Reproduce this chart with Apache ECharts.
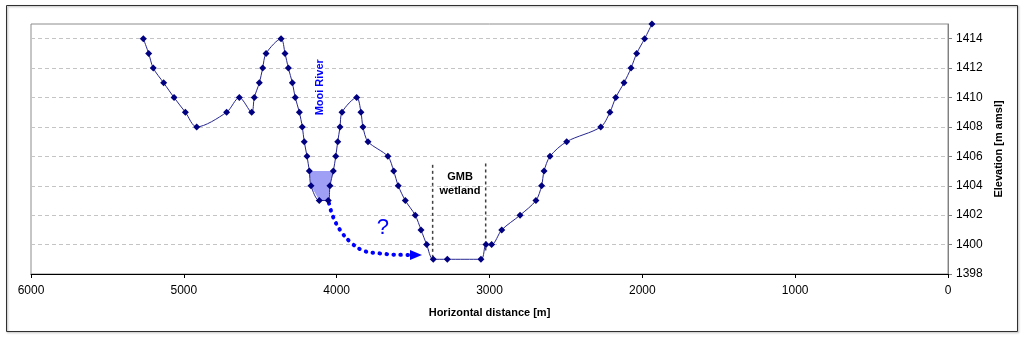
<!DOCTYPE html>
<html>
<head>
<meta charset="utf-8">
<script src="https://cdn.jsdelivr.net/npm/echarts@6/dist/echarts.min.js"></script>
<style>
html,body{margin:0;padding:0;background:#fff;}
#c{width:1024px;height:338px;}
</style>
</head>
<body>
<div id="c"></div>
<script>
// Cross-section profile: [horizontal distance (m), elevation (m amsl)]
const profile = [
  [5265,1414],[5230,1413],[5200,1412],[5132,1411],[5064,1410],[4990,1409],[4916,1408],
  [4720,1409],[4637,1410],[4556,1409],[4539,1410],[4506,1411],[4484,1412],[4462,1413],
  [4364,1414],[4338,1413],[4316,1412],[4290,1411],[4271,1410],[4244,1409],[4225,1408],
  [4212,1407],[4194,1406],[4179,1405],[4168,1404],[4114,1403],[4055,1403],[4044,1404],
  [4022,1405],[4006,1406],[3993,1407],[3978,1408],[3965,1409],[3869,1410],[3841,1409],
  [3828,1408],[3795,1407],[3665,1406],[3627,1405],[3597,1404],[3551,1403],[3486,1402],
  [3448,1401],[3411,1400],[3368,1399],[3276,1399],[3056,1399],[3023,1400],[2986,1400],
  [2920,1401],[2800,1402],[2696,1403],[2659,1404],[2643,1405],[2604,1406],[2495,1407],
  [2272,1408],[2212,1409],[2174,1410],[2120,1411],[2074,1412],[2037,1413],[1985,1414],
  [1937,1415]
];
// Water in the Mooi River channel (polygon)
const riverWater = [[4179,1405],[4168,1404],[4114,1403],[4055,1403],[4044,1404],[4022,1405]];
// Dotted arrow (possible seepage path)
const arrowPath = [[4050,1402.8],[4024,1401.9],[3978,1401.0],[3913,1400.2],[3828,1399.6],[3717,1399.4],[3566,1399.3],[3481,1399.3]];
// Wetland boundaries (dashed verticals)
const wetlandLeft = [[3372,1399.1],[3372,1405.6]];
const wetlandRight = [[3025,1399.6],[3025,1405.6]];
// Text annotations
const labels = [
  {pos:[4109,1410.7], text:'Mooi River'},
  {pos:[3193,1404.1], text:'GMB\nwetland'},
  {pos:[3697,1401.15], text:'?'}
];
const xTicks = [6000,5000,4000,3000,2000,1000,0];
const yTicks = [1398,1400,1402,1404,1406,1408,1410,1412,1414];

const FONT = '"Liberation Sans", Arial, sans-serif';
const chart = echarts.init(document.getElementById('c'), null, {renderer:'canvas'});

function textSeries(item, extra){
  return {
    type:'scatter', symbol:'circle', symbolSize:1, z:4, silent:true,
    itemStyle:{color:'rgba(0,0,0,0)',opacity:1},
    data:[item.pos],
    label:Object.assign({show:true,position:'inside',formatter:item.text,fontFamily:FONT}, extra)
  };
}

const option = {
  animation:false,
  backgroundColor:'#fff',
  graphic:[{
    type:'rect', shape:{x:6.5,y:5.5,width:1011,height:326},
    style:{fill:'none',stroke:'#303030',lineWidth:1,shadowBlur:2,shadowColor:'rgba(0,0,0,0.35)',shadowOffsetX:1,shadowOffsetY:1},
    z:-10, silent:true
  }],
  grid:{left:31,right:76,top:24,bottom:64,containLabel:false,outerBoundsMode:'none',
    show:true,borderColor:'#8c8c8c',borderWidth:1,backgroundColor:'#fff'},
  xAxis:{
    type:'value', inverse:true, min:0, max:6000, interval:1000,
    name:'Horizontal distance [m]', nameLocation:'middle', nameGap:33,
    nameTextStyle:{fontFamily:FONT,fontSize:11,fontWeight:'bold',color:'#000'},
    axisLine:{show:true,onZero:false,lineStyle:{color:'#000',width:1}},
    axisTick:{show:true,length:4,lineStyle:{color:'#000'}},
    axisLabel:{fontFamily:FONT,fontSize:12,color:'#000',margin:11,customValues:xTicks,formatter:v=>String(v)},
    splitLine:{show:false}
  },
  yAxis:{
    type:'value', position:'right', min:1398, max:1415, interval:2,
    name:'Elevation [m amsl]', nameLocation:'middle', nameGap:43, nameRotate:90,
    nameTextStyle:{fontFamily:FONT,fontSize:11,fontWeight:'bold',color:'#000'},
    axisLine:{show:true,lineStyle:{color:'#808080',width:1}},
    axisTick:{show:true,length:4,lineStyle:{color:'#808080'},customValues:yTicks},
    axisLabel:{fontFamily:FONT,fontSize:12,color:'#000',margin:8,customValues:yTicks,formatter:v=>String(v)},
    splitLine:{show:true,lineStyle:{color:'#c4c4c4',type:[4,3],width:1}}
  },
  series:[
    {
      type:'custom', coordinateSystem:'cartesian2d', z:1,
      data:riverWater.map(p=>p),
      renderItem:function(params, api){
        if(params.dataIndex!==0) return;
        const pts = riverWater.map(p=>api.coord(p));
        return {type:'polygon', shape:{points:pts}, style:{fill:'#9f9ff6',stroke:'none'}};
      },
      silent:true
    },
    {
      type:'line', data:profile, smooth:0.3, z:3,
      symbol:'diamond', symbolSize:7, showSymbol:true,
      lineStyle:{color:'#262690',width:1},
      itemStyle:{color:'#000080'}
    },
    {
      type:'line', z:2, smooth:0.4,
      data:arrowPath.map((p,i)=> i===arrowPath.length-1 ?
        {value:p, symbol:'triangle', symbolSize:[10,12], symbolRotate:-90} :
        {value:p, symbol:'none'}),
      showSymbol:true,
      lineStyle:{color:'#0000ff',width:4,type:[0.5,6.5],cap:'round'},
      itemStyle:{color:'#0000ff'}
    },
    {
      type:'line', data:wetlandLeft, symbol:'none', z:2,
      lineStyle:{color:'#404040',width:1.5,type:[3,3]}
    },
    {
      type:'line', data:wetlandRight, symbol:'none', z:2,
      lineStyle:{color:'#404040',width:1.5,type:[3,3]}
    },
    textSeries(labels[0], {rotate:90,fontSize:11,fontWeight:'bold',color:'#0000ff'}),
    textSeries(labels[1], {align:'center',fontSize:11,fontWeight:'bold',color:'#000',lineHeight:14}),
    textSeries(labels[2], {fontSize:22,color:'#0000ff'})
  ]
};
chart.setOption(option);
</script>
</body>
</html>
